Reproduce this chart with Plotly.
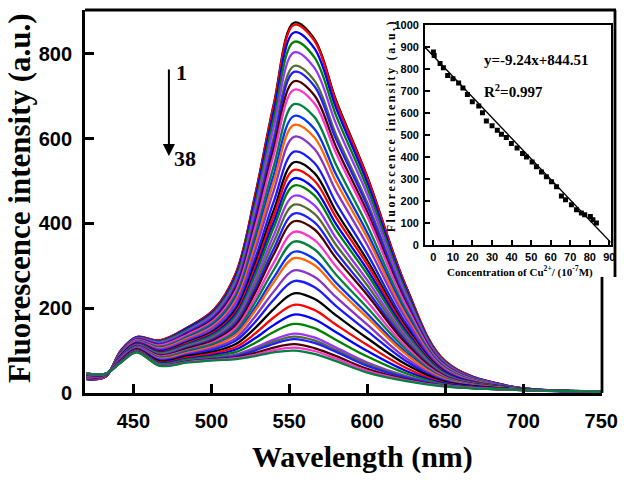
import plotly.graph_objects as go

# ---- main panel: 38 emission spectra ----
wl = [420, 432, 442, 452, 467, 485, 502, 516, 528, 540, 553, 566, 580, 600, 625, 650, 690, 750]

spectra = [
    [33, 38, 100, 132, 124, 155, 198, 285, 465, 680, 873, 835, 690, 510, 250, 75, 17, 4],
    [33, 38, 100, 132, 124, 154, 197, 284, 463, 677, 868, 831, 686, 507, 249, 75, 17, 4],
    [33, 38, 99, 131, 122, 153, 194, 279, 454, 663, 850, 813, 672, 496, 243, 73, 17, 4],
    [34, 38, 98, 130, 121, 150, 191, 273, 443, 646, 828, 792, 654, 483, 237, 72, 16, 4],
    [34, 39, 97, 129, 119, 147, 187, 266, 431, 627, 803, 767, 634, 468, 230, 70, 16, 4],
    [35, 39, 96, 127, 116, 144, 182, 258, 415, 603, 771, 737, 609, 449, 221, 67, 16, 4],
    [35, 39, 96, 127, 115, 143, 180, 254, 408, 592, 757, 724, 598, 441, 217, 66, 16, 4],
    [35, 39, 95, 126, 113, 140, 176, 248, 397, 576, 735, 702, 580, 427, 210, 64, 15, 4],
    [36, 39, 94, 125, 112, 138, 173, 243, 388, 561, 715, 683, 565, 416, 205, 63, 15, 4],
    [36, 40, 93, 123, 109, 134, 168, 234, 371, 535, 681, 651, 538, 395, 195, 60, 15, 4],
    [37, 40, 92, 122, 107, 131, 164, 227, 357, 514, 653, 623, 515, 378, 187, 58, 14, 4],
    [37, 40, 91, 121, 105, 129, 160, 221, 347, 498, 632, 603, 498, 366, 181, 56, 14, 4],
    [38, 40, 90, 120, 103, 126, 156, 214, 334, 477, 604, 576, 476, 349, 173, 54, 14, 4],
    [38, 41, 89, 118, 100, 122, 150, 204, 316, 451, 569, 543, 448, 328, 163, 51, 14, 4],
    [39, 41, 88, 117, 98, 120, 147, 198, 304, 431, 544, 519, 428, 313, 155, 49, 13, 4],
    [39, 41, 87, 116, 97, 118, 144, 193, 295, 418, 526, 501, 414, 303, 150, 48, 13, 4],
    [39, 41, 87, 115, 96, 116, 141, 188, 286, 403, 506, 482, 398, 291, 145, 47, 13, 4],
    [40, 42, 86, 114, 94, 114, 138, 183, 277, 390, 489, 466, 384, 280, 140, 45, 13, 4],
    [40, 42, 85, 113, 92, 111, 134, 177, 265, 372, 465, 443, 365, 266, 133, 43, 12, 4],
    [40, 42, 84, 112, 91, 109, 131, 171, 255, 356, 444, 423, 349, 254, 127, 42, 12, 4],
    [41, 42, 84, 111, 89, 107, 128, 166, 245, 340, 423, 403, 332, 241, 121, 40, 12, 4],
    [41, 42, 83, 110, 88, 105, 125, 161, 236, 327, 405, 386, 318, 231, 116, 39, 12, 3],
    [41, 42, 82, 109, 86, 102, 121, 154, 224, 307, 380, 361, 298, 215, 108, 37, 11, 3],
    [42, 43, 81, 108, 84, 100, 117, 148, 213, 290, 357, 339, 279, 201, 102, 35, 11, 3],
    [42, 43, 80, 107, 82, 97, 113, 142, 201, 272, 333, 316, 260, 187, 95, 33, 11, 3],
    [42, 43, 80, 106, 81, 95, 111, 138, 194, 261, 318, 302, 248, 178, 91, 32, 11, 3],
    [43, 43, 79, 105, 79, 92, 107, 130, 180, 239, 289, 274, 226, 161, 82, 30, 10, 3],
    [43, 44, 78, 104, 77, 90, 103, 124, 167, 220, 264, 250, 205, 146, 75, 28, 10, 3],
    [44, 44, 77, 102, 75, 87, 98, 116, 153, 198, 235, 222, 183, 129, 67, 26, 10, 3],
    [44, 44, 76, 101, 72, 84, 94, 109, 140, 178, 208, 196, 161, 113, 59, 23, 9, 3],
    [45, 44, 75, 100, 71, 81, 90, 103, 129, 160, 185, 174, 143, 99, 52, 22, 9, 3],
    [45, 44, 74, 99, 69, 79, 87, 97, 118, 144, 163, 153, 125, 86, 46, 20, 9, 3],
    [45, 45, 74, 98, 67, 76, 83, 91, 107, 126, 140, 131, 107, 72, 40, 18, 8, 3],
    [45, 45, 73, 98, 67, 76, 82, 89, 103, 121, 133, 124, 101, 68, 38, 18, 8, 3],
    [46, 45, 73, 97, 66, 75, 81, 87, 100, 116, 127, 118, 97, 64, 36, 17, 8, 3],
    [46, 45, 73, 97, 65, 74, 79, 84, 94, 107, 115, 106, 87, 57, 32, 16, 8, 3],
    [46, 45, 72, 96, 65, 73, 78, 82, 90, 101, 107, 99, 81, 52, 30, 16, 8, 3],
    [46, 45, 72, 96, 64, 72, 77, 80, 87, 96, 100, 92, 75, 48, 28, 15, 8, 3],
]

# Origin-style colour cycle seen in the plot (repeats every 14 curves)
colors = ["#000000", "#ff0000", "#0000ff", "#008000", "#9933ff", "#556b2f", "#2020ff",
          "#4d0000", "#ff33cc", "#008040", "#0033ff", "#ff6600", "#8833cc", "#1a1aff"]

# ---- inset: peak intensity vs Cu2+ concentration ----
conc = [0, 0.4, 3.4, 5.1, 7.3, 10, 12.9, 15.1, 17.4, 19.9, 23.2, 25.1, 27.1, 30, 32.7, 34.8,
        37.3, 39.9, 42.8, 45.6, 47.6, 50.5, 52.7, 55.3, 57.8, 60.4, 63, 65.5, 67.6, 70.6,
        73.2, 75.7, 77.4, 80.3, 81.6, 83.4]
peak_int = [876, 861, 824, 805, 770, 755, 736, 713, 683, 650, 631, 600, 563, 541, 521, 503,
            488, 461, 441, 415, 400, 377, 355, 332, 310, 287, 265, 223, 205, 183,
            160, 145, 137, 130, 115, 100]
fit_x = [-4.3, 90.7]
fit_y = [898, 12]

SERIF = "Liberation Serif, Times New Roman, serif"
SANS = "Liberation Sans, Arial, sans-serif"
NARROW = "Liberation Sans Narrow, Arial Narrow, Liberation Sans, sans-serif"

fig = go.Figure()

for i, ys in enumerate(spectra):
    fig.add_trace(go.Scatter(x=wl, y=ys, mode="lines",
                             line=dict(color=colors[i % len(colors)], width=2.3,
                                       shape="spline", smoothing=1.0),
                             xaxis="x", yaxis="y", showlegend=False))

fig.add_trace(go.Scatter(x=fit_x, y=fit_y, mode="lines", line=dict(color="black", width=1.4),
                         xaxis="x2", yaxis="y2", showlegend=False))
fig.add_trace(go.Scatter(x=conc, y=peak_int, mode="markers",
                         marker=dict(symbol="square", size=5, color="black"),
                         xaxis="x2", yaxis="y2", showlegend=False))

main_dom = 517 / 526

fig.update_layout(
    width=637, height=480,
    margin=dict(l=85, r=26, t=4, b=87),
    paper_bgcolor="white", plot_bgcolor="rgba(0,0,0,0)",
    showlegend=False,
    xaxis=dict(domain=[0, main_dom], range=[419, 750.5], tickvals=[450, 500, 550, 600, 650, 700, 750],
               showline=True, linecolor="black", linewidth=2.8, mirror=False,
               ticks="inside", ticklen=9, tickwidth=2.5, tickcolor="black",
               tickfont=dict(family=SANS, size=20, color="black", weight="bold"),
               ticklabelstandoff=8, showgrid=False, zeroline=False),
    yaxis=dict(domain=[0, 1], range=[0, 903], tickvals=[0, 200, 400, 600, 800],
               showline=True, linecolor="black", linewidth=2.8, mirror=False,
               ticks="inside", ticklen=9, tickwidth=2.5, tickcolor="black",
               tickfont=dict(family=SANS, size=20, color="black", weight="bold"),
               ticklabelstandoff=6, showgrid=False, zeroline=False),
    xaxis2=dict(domain=[0.6464, 0.9994], range=[-4.3, 90.7], anchor="y2",
                tickvals=[0, 10, 20, 30, 40, 50, 60, 70, 80, 90],
                showline=True, linecolor="black", linewidth=1.8, mirror=True,
                ticks="inside", ticklen=5, tickwidth=1.5, tickcolor="black",
                tickfont=dict(family=NARROW, size=11, color="black", weight="bold"),
                ticklabelstandoff=1, showgrid=False, zeroline=False),
    yaxis2=dict(domain=[0.3864, 0.9614], range=[0, 1000], anchor="x2",
                tickvals=[0, 100, 200, 300, 400, 500, 600, 700, 800, 900, 1000],
                showline=True, linecolor="black", linewidth=1.8, mirror=True,
                ticks="inside", ticklen=5, tickwidth=1.5, tickcolor="black",
                tickfont=dict(family=NARROW, size=11, color="black", weight="bold"),
                ticklabelstandoff=2, showgrid=False, zeroline=False),
)

# frame: top edge runs over the pasted inset, right edge jogs out behind it
frame = dict(color="black", width=2.8)
fig.add_shape(type="line", xref="paper", yref="paper", x0=0, x1=1.0095, y0=1, y1=1, line=frame)
fig.add_shape(type="line", xref="paper", yref="paper", x0=main_dom, x1=main_dom, y0=0, y1=0.303, line=frame)
fig.add_shape(type="line", xref="paper", yref="paper", x0=1.0076, x1=1.0076, y0=0.303, y1=1, line=frame)

ann = []
ann.append(dict(text="Wavelength (nm)", xref="paper", yref="paper", x=0.5285, y=-0.167,
                showarrow=False, font=dict(family=SERIF, size=30, color="black", weight="bold"),
                xanchor="center", yanchor="middle"))
ann.append(dict(text="Fluorescence intensity (a.u.)", xref="paper", yref="paper", x=-0.1255, y=0.509,
                textangle=-90, showarrow=False,
                font=dict(family=SERIF, size=31, color="black", weight="bold"),
                xanchor="center", yanchor="middle"))
# 1 -> 38 arrow
ann.append(dict(x=472.8, y=559, ax=472.8, ay=766, xref="x", yref="y", axref="x", ayref="y",
                text="", showarrow=True, arrowhead=2, arrowsize=1.2, arrowwidth=2, arrowcolor="black"))
ann.append(dict(text="1", x=480.9, y=756, xref="x", yref="y", showarrow=False,
                font=dict(family=SERIF, size=22, color="black", weight="bold")))
ann.append(dict(text="38", x=482.8, y=552, xref="x", yref="y", showarrow=False,
                font=dict(family=SERIF, size=22, color="black", weight="bold")))
# inset texts
ann.append(dict(text="y=-9.24x+844.51", x=24.9, y=839, xref="x2", yref="y2", showarrow=False,
                xanchor="left", font=dict(family=SERIF, size=15, color="black", weight="bold")))
ann.append(dict(text="R<sup>2</sup>=0.997", x=24.9, y=700, xref="x2", yref="y2", showarrow=False,
                xanchor="left", font=dict(family=SERIF, size=15, color="black", weight="bold")))
ann.append(dict(text="Concentration of Cu<sup>2+</sup>/ (10<sup>-7</sup>M)", xref="paper", yref="paper",
                x=0.827, y=0.318, showarrow=False, xanchor="center", yanchor="middle",
                font=dict(family=SERIF, size=11, color="black", weight="bold")))
spaced = "\u2009".join("Fluorescence intensity (a.u.)")
ann.append(dict(text=spaced, xref="paper", yref="paper", x=0.5817, y=0.6967, textangle=-90,
                showarrow=False, xanchor="center", yanchor="middle",
                font=dict(family=SERIF, size=12, color="black", weight="bold")))
fig.update_layout(annotations=ann)

# the page's default 8px body margin would shift the figure; drop it
fig.write_html("out.html", config={"displayModeBar": False},
               post_script="document.body.style.margin='0px';")
